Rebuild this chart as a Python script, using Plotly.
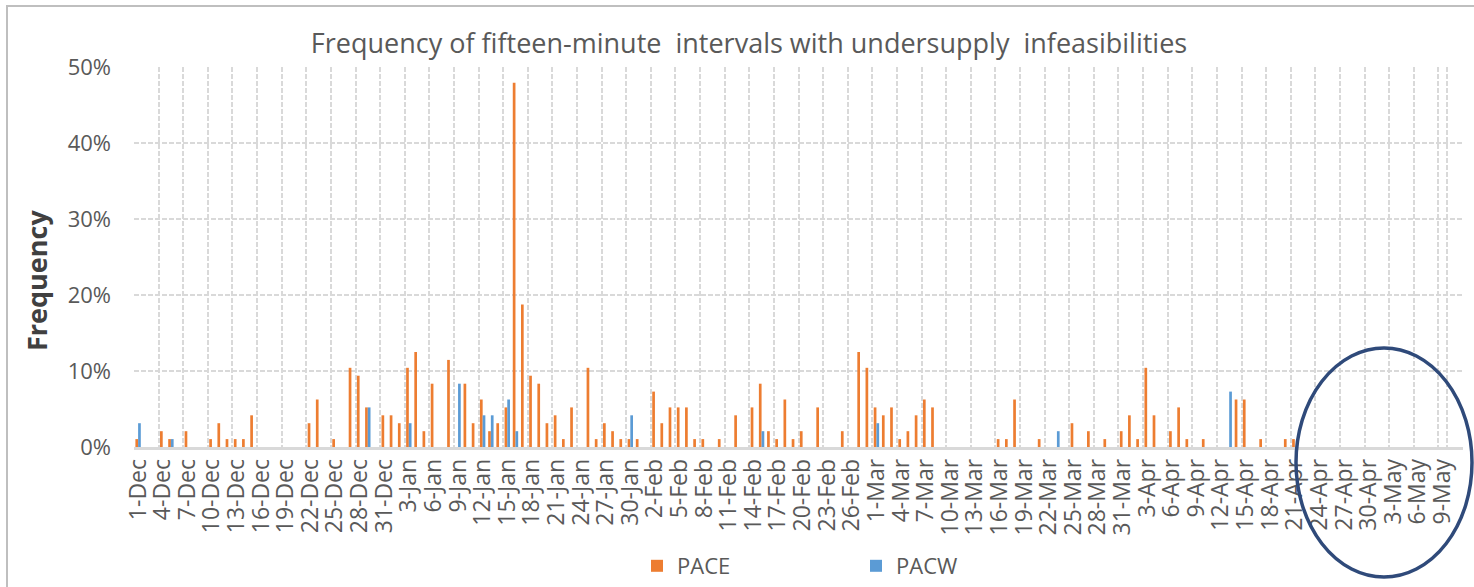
import plotly.graph_objects as go

# ---- categories: one per day, 1-Dec .. 11-May ----
MONTHS = ["Dec", "Jan", "Feb", "Mar", "Apr", "May"]
DAYS_IN_MONTH = [31, 31, 28, 31, 30, 11]
days = [f"{d}-{m}" for m, n in zip(MONTHS, DAYS_IN_MONTH) for d in range(1, n + 1)]
tick_labels = days[::3]

# ---- PACE frequency (%), per day ----
PACE_DEC = [1.04, 0, 0, 2.08, 1.04, 0, 2.08, 0, 0, 1.04, 3.13, 1.04, 1.04, 1.04, 4.17, 0,
            0, 0, 0, 0, 0, 3.13, 6.25, 0, 1.04, 0, 10.42, 9.38, 5.21, 0, 4.17]
PACE_JAN = [4.17, 3.13, 10.42, 12.5, 2.08, 8.33, 0, 11.46, 0, 8.33, 3.13, 6.25, 2.08, 3.13, 5.21, 47.92,
            18.75, 9.38, 8.33, 3.13, 4.17, 1.04, 5.21, 0, 10.42, 1.04, 3.13, 2.08, 1.04, 1.04, 1.04]
PACE_FEB = [0, 7.29, 3.13, 5.21, 5.21, 5.21, 1.04, 1.04, 0, 1.04, 0, 4.17, 0, 5.21,
            8.33, 2.08, 1.04, 6.25, 1.04, 2.08, 0, 5.21, 0, 0, 2.08, 0, 12.5, 10.42]
PACE_MAR = [5.21, 4.17, 5.21, 1.04, 2.08, 4.17, 6.25, 5.21, 0, 0, 0, 0, 0, 0, 0, 1.04,
            1.04, 6.25, 0, 0, 1.04, 0, 0, 0, 3.13, 0, 2.08, 0, 1.04, 0, 2.08]
PACE_APR = [4.17, 1.04, 10.42, 4.17, 0, 2.08, 5.21, 1.04, 0, 1.04, 0, 0, 0, 6.25, 6.25,
            0, 1.04, 0, 0, 1.04, 1.04, 0, 0, 0, 0, 0, 0, 0, 0, 0]
PACE_MAY = [0, 0, 0, 0, 0, 0, 0, 0, 0, 0, 0]

# ---- PACW frequency (%), per day ----
PACW_DEC = [3.13, 0, 0, 0, 1.04, 0, 0, 0, 0, 0, 0, 0, 0, 0, 0, 0,
            0, 0, 0, 0, 0, 0, 0, 0, 0, 0, 0, 0, 5.21, 0, 0]
PACW_JAN = [0, 0, 3.13, 0, 0, 0, 0, 0, 8.33, 0, 0, 4.17, 4.17, 0, 6.25, 2.08,
            0, 0, 0, 0, 0, 0, 0, 0, 0, 0, 0, 0, 0, 4.17, 0]
PACW_FEB = [0, 0, 0, 0, 0, 0, 0, 0, 0, 0, 0, 0, 0, 0,
            2.08, 0, 0, 0, 0, 0, 0, 0, 0, 0, 0, 0, 0, 0]
PACW_MAR = [3.13, 0, 0, 0, 0, 0, 0, 0, 0, 0, 0, 0, 0, 0, 0, 0,
            0, 0, 0, 0, 0, 0, 2.08, 0, 0, 0, 0, 0, 0, 0, 0]
PACW_APR = [0, 0, 0, 0, 0, 0, 0, 0, 0, 0, 0, 0, 7.29, 0, 0,
            0, 0, 0, 0, 0, 0, 0, 0, 0, 0, 0, 0, 0, 0, 0]
PACW_MAY = [0, 0, 0, 0, 0, 0, 0, 0, 0, 0, 0]

pace = PACE_DEC + PACE_JAN + PACE_FEB + PACE_MAR + PACE_APR + PACE_MAY
pacw = PACW_DEC + PACW_JAN + PACW_FEB + PACW_MAR + PACW_APR + PACW_MAY

FONT = "Open Sans"
GREY_TXT = "#595959"
GRID = "#d9d9d9"

fig = go.Figure()
fig.add_trace(go.Bar(x=days, y=pace, name="PACE", marker=dict(color="#ED7D31", line=dict(width=0))))
fig.add_trace(go.Bar(x=days, y=pacw, name="PACW", marker=dict(color="#5B9BD5", line=dict(width=0))))

W, H = 1474, 587
L, R, T, B = 134, 11, 67, 140
pw, ph = W - L - R, H - T - B


def px(x):
    return (x - L) / pw


def py(y):
    return (H - B - y) / ph


fig.update_layout(
    width=W, height=H,
    margin=dict(l=L, r=R, t=T, b=B, autoexpand=False),
    paper_bgcolor="white", plot_bgcolor="white",
    barmode="group", bargap=0.34, bargroupgap=0,
    font=dict(family=FONT, color=GREY_TXT),
    title=dict(text="Frequency of fifteen-minute  intervals with undersupply  infeasibilities",
               x=px(749), xref="paper", xanchor="center",
               y=1 - 44 / H, yref="container", yanchor="middle",
               font=dict(family=FONT, size=27, color=GREY_TXT)),
    legend=dict(orientation="h", x=px(637), xanchor="left", y=py(566), yanchor="middle",
                font=dict(family=FONT, size=22, color=GREY_TXT),
                entrywidth=174, entrywidthmode="pixels", itemwidth=30),
    xaxis=dict(type="category", range=[-0.5, len(days) - 0.5],
               tickmode="array", tickvals=tick_labels, tickson="boundaries",
               tickangle=-90, tickfont=dict(family=FONT, size=23, color=GREY_TXT),
               showgrid=True, gridcolor=GRID, gridwidth=1.6, griddash="5px,2px",
               showline=True, linecolor=GRID, linewidth=2.5, ticks="",
               automargin=False, fixedrange=True),
    yaxis=dict(range=[0, 50], dtick=10, ticksuffix="%",
               tickfont=dict(family=FONT, size=22, color=GREY_TXT),
               showgrid=True, gridcolor=GRID, gridwidth=1.6, griddash="5px,2px",
               zeroline=False, showline=False, ticklabelstandoff=22,
               automargin=False, fixedrange=True),
)

fig.add_annotation(text="<b>Frequency</b>", xref="paper", yref="paper",
                   x=px(36), y=py(281), xanchor="center", yanchor="middle",
                   textangle=-90, showarrow=False,
                   font=dict(family=FONT, size=27, color="#404040"))

# outer chart border (top and left edges visible)
fig.add_shape(type="rect", xref="paper", yref="paper",
              x0=px(7), x1=px(1490), y0=py(6), y1=py(600),
              line=dict(color="#bfbfbf", width=2), fillcolor="rgba(0,0,0,0)", layer="below")

# highlighting ellipse
fig.add_shape(type="circle", xref="paper", yref="paper",
              x0=px(1296), x1=px(1472), y0=py(577), y1=py(348),
              line=dict(color="#2F4A7A", width=3.5), fillcolor="rgba(0,0,0,0)")

fig.write_html("out.html", config={"displayModeBar": False},
               post_script="document.body.style.margin='0';")
